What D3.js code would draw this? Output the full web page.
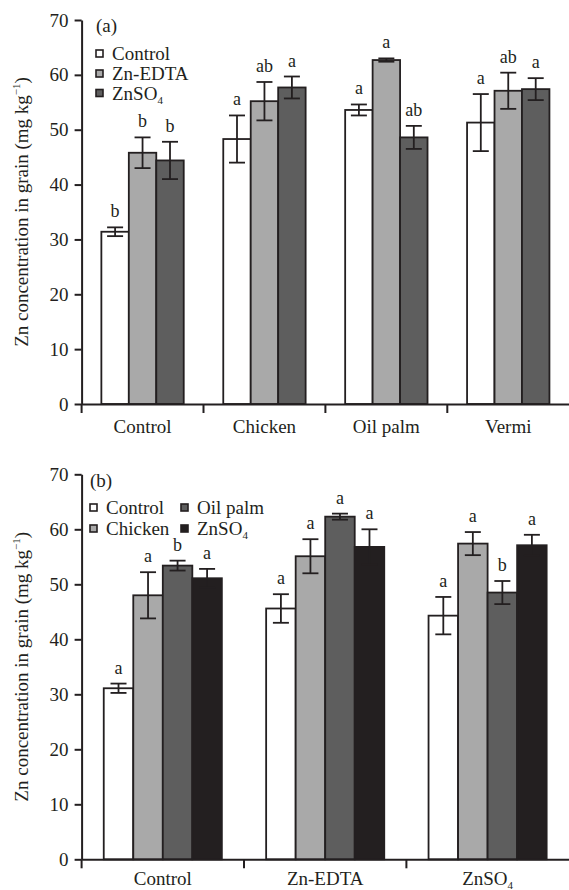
<!DOCTYPE html>
<html><head><meta charset="utf-8">
<script src="https://cdn.jsdelivr.net/npm/d3@7"></script>
<style>body{margin:0;background:#fff}svg{display:block}text{font-family:"Liberation Serif","Times New Roman",serif;fill:#231f20}</style>
</head><body>
<script>
// ---------- Panel (a) data ----------
const catsA = ["Control", "Chicken", "Oil palm", "Vermi"];
const seriesA = ["Control", "Zn-EDTA", "ZnSO4"];
const meanA_Control = [31.4, 48.3, 53.6, 51.3];
const errA_Control  = [0.8, 4.3, 1.0, 5.2];
const letA_Control  = ["b", "a", "a", "a"];
const meanA_ZnEDTA  = [45.8, 55.2, 62.7, 57.1];
const errA_ZnEDTA   = [2.8, 3.5, 0.3, 3.3];
const letA_ZnEDTA   = ["b", "ab", "a", "ab"];
const meanA_ZnSO4   = [44.4, 57.7, 48.6, 57.4];
const errA_ZnSO4    = [3.4, 2.0, 2.1, 2.0];
const letA_ZnSO4    = ["b", "a", "ab", "a"];

// ---------- Panel (b) data ----------
const catsB = ["Control", "Zn-EDTA", "ZnSO4"];
const seriesB = ["Control", "Chicken", "Oil palm", "ZnSO4"];
const meanB_Control = [31.1, 45.6, 44.3];
const errB_Control  = [0.85, 2.6, 3.4];
const letB_Control  = ["a", "a", "a"];
const meanB_Chicken = [48.0, 55.1, 57.4];
const errB_Chicken  = [4.2, 3.1, 2.1];
const letB_Chicken  = ["a", "a", "a"];
const meanB_OilPalm = [53.4, 62.3, 48.5];
const errB_OilPalm  = [0.9, 0.55, 2.1];
const letB_OilPalm  = ["b", "a", "b"];
const meanB_ZnSO4   = [51.1, 56.8, 57.1];
const errB_ZnSO4    = [1.7, 3.2, 1.9];
const letB_ZnSO4    = ["a", "a", "a"];

const yTicks = [0, 10, 20, 30, 40, 50, 60, 70];

const INK = "#231f20";
const svg = d3.select("body").append("svg").attr("width", 569).attr("height", 890);

function addChem(sel, txt, subSize) {
  if (txt === "ZnSO4") {
    sel.text(null);
    sel.append("tspan").text("ZnSO");
    sel.append("tspan").attr("font-size", subSize).attr("dy", 4).text("4");
  } else sel.text(txt);
}

function panel(cfg) {
  const g = svg.append("g");
  const y = d3.scaleLinear().domain([0, 70]).range(cfg.yRange);
  const x0 = d3.scaleBand().domain(cfg.cats).range(cfg.xRange).padding(0);
  const x1 = d3.scaleBand().domain(cfg.series).range([0, x0.bandwidth()])
    .paddingInner(0).paddingOuter(cfg.po);

  const rows = [];
  cfg.series.forEach((s, si) => {
    cfg.cats.forEach((c, ci) => {
      rows.push({s, c, v: cfg.means[si][ci], e: cfg.errs[si][ci], l: cfg.lets[si][ci], col: cfg.colors[si]});
    });
  });

  g.selectAll("rect.bar").data(rows).join("rect").attr("class", "bar")
    .attr("x", d => x0(d.c) + x1(d.s))
    .attr("y", d => y(d.v))
    .attr("width", x1.bandwidth())
    .attr("height", d => y(0) - y(d.v))
    .attr("fill", d => d.col).attr("stroke", INK).attr("stroke-width", 1.8);

  const eb = g.selectAll("g.eb").data(rows).join("g").attr("class", "eb")
    .attr("stroke", INK).attr("stroke-width", 1.8);
  const cx = d => x0(d.c) + x1(d.s) + x1.bandwidth() / 2;
  eb.append("line").attr("x1", cx).attr("x2", cx).attr("y1", d => y(d.v + d.e)).attr("y2", d => y(d.v - d.e));
  eb.append("line").attr("x1", d => cx(d) - 8).attr("x2", d => cx(d) + 8).attr("y1", d => y(d.v + d.e)).attr("y2", d => y(d.v + d.e));
  eb.append("line").attr("x1", d => cx(d) - 8).attr("x2", d => cx(d) + 8).attr("y1", d => y(d.v - d.e)).attr("y2", d => y(d.v - d.e));

  g.selectAll("text.let").data(rows).join("text").attr("class", "let")
    .attr("x", cx).attr("y", d => y(d.v + d.e) - 10)
    .attr("text-anchor", "middle").attr("font-size", 18).text(d => d.l);

  const ya = g.append("g").attr("transform", `translate(${cfg.xRange[0]},0)`)
    .call(d3.axisLeft(y).tickValues(yTicks).tickSize(7).tickPadding(6).tickSizeOuter(0));
  ya.selectAll("path,line").attr("stroke", INK).attr("stroke-width", 2);
  ya.selectAll("text").attr("font-size", 19).attr("font-family", "Liberation Serif").attr("fill", INK);

  const xa = g.append("g").attr("transform", `translate(0,${y(0)})`)
    .call(d3.axisBottom(x0).tickSize(0).tickPadding(cfg.labPad).tickSizeOuter(0));
  xa.select("path").attr("stroke", INK).attr("stroke-width", 2);
  xa.selectAll("text").attr("font-size", 19).attr("font-family", "Liberation Serif").attr("fill", INK)
    .each(function(d) { addChem(d3.select(this), d, 11); });
  g.selectAll("line.bt").data(cfg.cats).join("line").attr("class", "bt")
    .attr("x1", d => x0(d)).attr("x2", d => x0(d))
    .attr("y1", y(0)).attr("y2", y(0) + 9).attr("stroke", INK).attr("stroke-width", 2);

  const t = g.append("text")
    .attr("transform", `translate(28,${(cfg.yRange[0] + cfg.yRange[1]) / 2}) rotate(-90)`)
    .attr("text-anchor", "middle").attr("font-size", 19);
  t.append("tspan").text("Zn concentration in grain (mg kg");
  t.append("tspan").attr("font-size", 11).attr("dy", -8).text("\u22121");
  t.append("tspan").attr("dy", 8).text(")");

  g.append("text").attr("x", cfg.tag.x).attr("y", cfg.tag.y).attr("font-size", 19).text(cfg.tag.t);

  const lg = g.selectAll("g.lg").data(cfg.series).join("g").attr("class", "lg")
    .attr("transform", (d, i) => `translate(${cfg.leg[i][0]},${cfg.leg[i][1]})`);
  lg.append("rect").attr("x", 0).attr("y", -10).attr("width", 7).attr("height", 7)
    .attr("fill", (d, i) => cfg.colors[i]).attr("stroke", INK).attr("stroke-width", 1.6);
  lg.append("text").attr("x", 16).attr("y", 0).attr("font-size", 19)
    .each(function(d) { addChem(d3.select(this), d, 11); });
}

panel({
  cats: catsA, series: seriesA,
  means: [meanA_Control, meanA_ZnEDTA, meanA_ZnSO4],
  errs: [errA_Control, errA_ZnEDTA, errA_ZnSO4],
  lets: [letA_Control, letA_ZnEDTA, letA_ZnSO4],
  colors: ["#ffffff", "#a9a9a9", "#5e5e5e"],
  yRange: [404, 20], xRange: [81.6, 569.2], po: 0.72, labPad: 16,
  tag: {x: 96, y: 32, t: "(a)"},
  leg: [[96, 60], [96, 80], [96, 99.5]]
});

panel({
  cats: catsB, series: seriesB,
  means: [meanB_Control, meanB_Chicken, meanB_OilPalm, meanB_ZnSO4],
  errs: [errB_Control, errB_Chicken, errB_OilPalm, errB_ZnSO4],
  lets: [letB_Control, letB_Chicken, letB_OilPalm, letB_ZnSO4],
  colors: ["#ffffff", "#a9a9a9", "#5e5e5e", "#231f20"],
  yRange: [859.3, 474.3], xRange: [81.6, 568.8], po: 0.75, labPad: 12,
  tag: {x: 90, y: 487, t: "(b)"},
  leg: [[90, 514], [90, 535], [181, 514], [181, 535]]
});
</script>
</body></html>
